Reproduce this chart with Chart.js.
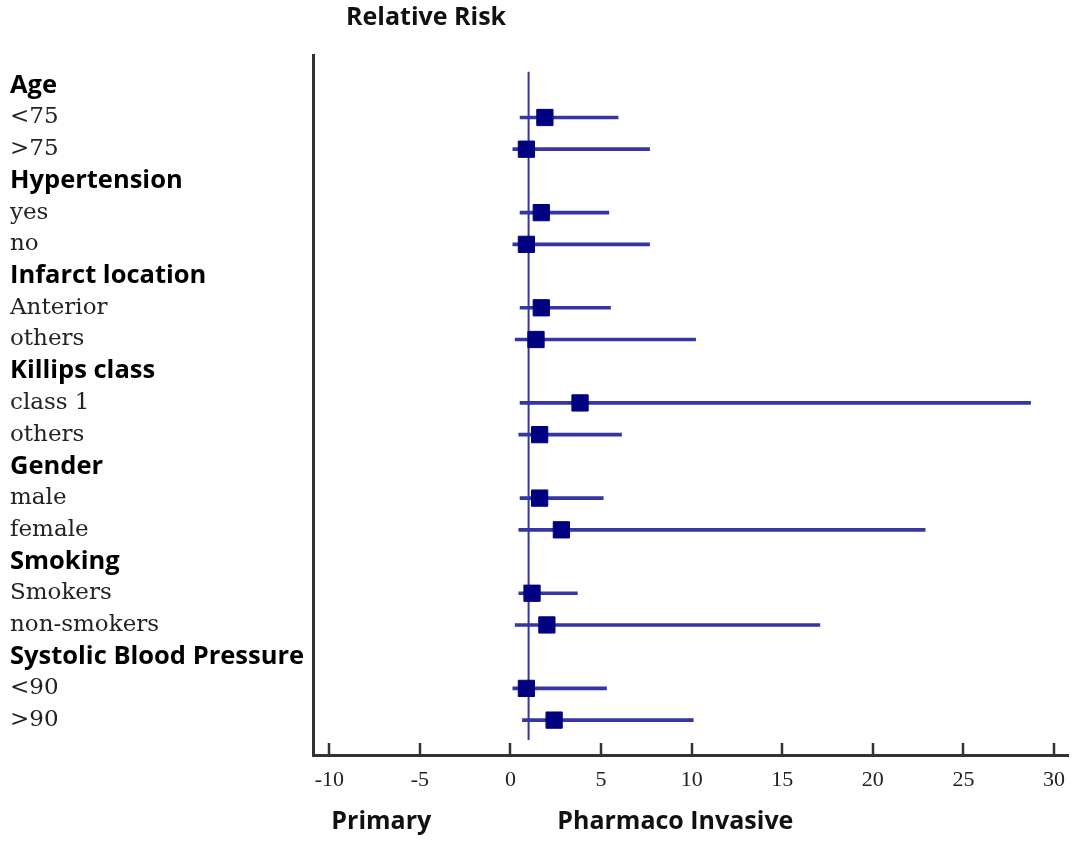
<!DOCTYPE html>
<html>
<head>
<meta charset="utf-8">
<script src="https://cdn.jsdelivr.net/npm/chart.js@4"></script>
<style>
  html, body { margin: 0; padding: 0; background: #fff; }
  #wrap { width: 1077px; height: 845px; }
</style>
</head>
<body>
<div id="wrap"><canvas id="rr-chart" width="1077" height="845"></canvas></div>
<script>
// rows of the forest plot, top to bottom
const rowLabels = ['Age', '<75', '>75', 'Hypertension', 'yes', 'no', 'Infarct location', 'Anterior', 'others',
  'Killips class', 'class 1', 'others', 'Gender', 'male', 'female', 'Smoking', 'Smokers', 'non-smokers',
  'Systolic Blood Pressure', '<90', '>90'];
const headerRows = [0, 3, 6, 9, 12, 15, 18];

// rows that carry an estimate, with relative risk and its interval
const rrRows = [1, 2, 4, 5, 7, 8, 10, 11, 13, 14, 16, 17, 19, 20];
const rrPoint = [1.90, 0.88, 1.70, 0.88, 1.70, 1.41, 3.84, 1.61, 1.61, 2.81, 1.19, 2.01, 0.88, 2.41];
const rrLow = [0.53, 0.13, 0.53, 0.13, 0.53, 0.26, 0.53, 0.46, 0.53, 0.46, 0.46, 0.26, 0.13, 0.66];
const rrHigh = [5.94, 7.68, 5.43, 7.68, 5.52, 10.22, 28.71, 6.13, 5.12, 22.89, 3.69, 17.08, 5.30, 10.09];

const xTicks = [-10, -5, 0, 5, 10, 15, 20, 25, 30];

// no-effect line at RR = 1
const refValue = 1;
const refSpan = [-0.44, 20.63];

const lineColor = '#3535a3';
const boxColor = '#000080';
const axisColor = '#333333';

const serif = '"DejaVu Serif", "Liberation Serif", serif';
const sans = '"Open Sans", Lato, sans-serif';

// texts around the plot, placed along the x scale
const notes = [
  { text: 'Relative Risk', x: -4.66, where: 'top' },
  { text: 'Primary', x: -7.13, where: 'bottom' },
  { text: 'Pharmaco Invasive', x: 9.1, where: 'bottom' }
];

const intervalData = rrRows.map((r, i) => ({ y: r, x: [rrLow[i], rrHigh[i]] }));
const pointData = rrRows.map((r, i) => ({ x: rrPoint[i], y: r }));
const refData = refSpan.map(y => ({ x: refValue, y }));

// small ticks pointing up into the plot + the outside texts
const extras = {
  id: 'extras',
  afterDraw(chart) {
    const { ctx, chartArea, scales } = chart;
    ctx.save();
    ctx.strokeStyle = axisColor;
    ctx.lineWidth = 2.5;
    xTicks.forEach(v => {
      const px = Math.round(scales.x.getPixelForValue(v));
      ctx.beginPath();
      ctx.moveTo(px, chartArea.bottom);
      ctx.lineTo(px, chartArea.bottom - 12);
      ctx.stroke();
    });
    ctx.fillStyle = '#111';
    ctx.font = 'bold 25px ' + sans;
    ctx.textAlign = 'center';
    ctx.textBaseline = 'middle';
    notes.forEach(n => {
      const px = scales.x.getPixelForValue(n.x);
      const py = n.where === 'top' ? chartArea.top - 37 : chartArea.bottom + 67;
      ctx.fillText(n.text, px, py);
    });
    ctx.restore();
  }
};

new Chart(document.getElementById('rr-chart'), {
  type: 'bar',
  data: {
    datasets: [
      {
        type: 'scatter',
        data: pointData,
        pointStyle: 'rect',
        pointRadius: 11.5,
        pointBackgroundColor: boxColor,
        pointBorderColor: boxColor,
        pointBorderWidth: 1,
        order: 0
      },
      {
        type: 'bar',
        indexAxis: 'y',
        data: intervalData,
        backgroundColor: lineColor,
        barThickness: 3,
        grouped: false,
        order: 1
      },
      {
        type: 'line',
        data: refData,
        borderColor: lineColor,
        borderWidth: 2,
        pointRadius: 0,
        order: 2
      }
    ]
  },
  options: {
    responsive: false,
    animation: false,
    layout: { autoPadding: false, padding: { top: 55, left: 10, right: 2, bottom: 0 } },
    plugins: {
      legend: { display: false },
      tooltip: { enabled: false }
    },
    scales: {
      x: {
        type: 'linear',
        min: -10.9,
        max: 30.8,
        offset: false,
        afterBuildTicks: s => { s.ticks = xTicks.map(v => ({ value: v })); },
        afterFit: s => { s.height = 90; },
        grid: { display: false, drawTicks: false, offset: false },
        border: { display: true, color: axisColor, width: 3 },
        ticks: {
          padding: 12,
          color: '#222',
          font: { family: '"Liberation Serif", serif', size: 22 }
        }
      },
      y: {
        type: 'linear',
        reverse: true,
        min: -0.97,
        max: 21.1,
        offset: false,
        afterBuildTicks: s => { s.ticks = rowLabels.map((_, i) => ({ value: i })); },
        afterFit: s => { s.width = 303; },
        grid: { display: false, drawTicks: false, offset: false },
        border: { display: true, color: axisColor, width: 3 },
        ticks: {
          crossAlign: 'far',
          autoSkip: false,
          padding: 0,
          callback: (v, i) => rowLabels[i],
          color: c => headerRows.includes(c.index) ? '#000' : '#222',
          font: c => headerRows.includes(c.index)
            ? { family: sans, size: 25.5, weight: 'bold' }
            : { family: serif, size: 23 }
        }
      }
    }
  },
  plugins: [extras]
});
</script>
</body>
</html>
